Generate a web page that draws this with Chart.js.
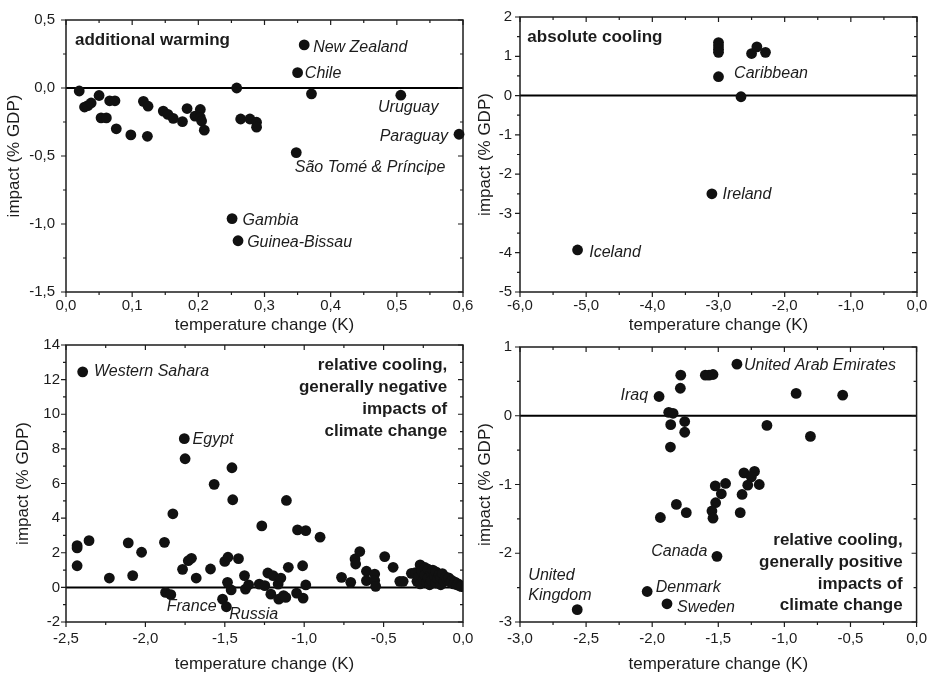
<!DOCTYPE html>
<html>
<head>
<meta charset="utf-8">
<script src="https://cdn.jsdelivr.net/npm/chart.js@4.4.1/dist/chart.umd.min.js"></script>
<style>
    html, body { margin: 0; padding: 0; background: #fff; overflow: hidden; }
    #wrap { position: relative; width: 935px; height: 676px; }
    canvas { position: absolute; }
</style>
</head>
<body>
<div id="wrap">
    <canvas id="warmChart" width="490" height="340" style="left:0;top:0"></canvas>
    <canvas id="coolChart" width="464" height="340" style="left:471px;top:0"></canvas>
    <canvas id="negChart" width="490" height="346" style="left:0;top:330px"></canvas>
    <canvas id="posChart" width="464" height="346" style="left:471px;top:330px"></canvas>
</div>
<script>

// [temperature change (K), impact (% GDP)]
var warmPoints = [
    [0.020, -0.022], [0.028, -0.14], [0.033, -0.13], [0.038, -0.11], [0.050, -0.055],
    [0.053, -0.22], [0.061, -0.22], [0.066, -0.094], [0.074, -0.094], [0.076, -0.30],
    [0.098, -0.345], [0.117, -0.098], [0.124, -0.134], [0.123, -0.355], [0.147, -0.17],
    [0.154, -0.194], [0.162, -0.223], [0.176, -0.247], [0.183, -0.151], [0.195, -0.207],
    [0.203, -0.158], [0.203, -0.216], [0.205, -0.243], [0.209, -0.31], [0.258, 0.0],
    [0.264, -0.228], [0.278, -0.228], [0.288, -0.252], [0.288, -0.288], [0.251, -0.96],
    [0.260, -1.123], [0.348, -0.475], [0.350, 0.113], [0.360, 0.317], [0.371, -0.043],
    [0.506, -0.053], [0.594, -0.34]
];

var coolPoints = [
    [-3.0, 1.35], [-3.0, 1.26], [-3.0, 1.18], [-3.0, 1.1], [-3.0, 0.48], [-2.66, -0.03],
    [-2.50, 1.07], [-2.42, 1.24], [-2.29, 1.10], [-3.10, -2.50], [-5.13, -3.93]
];

var negPoints = [
    [-2.395, 12.45], [-2.43, 2.41], [-2.43, 2.28], [-2.43, 1.25], [-2.355, 2.7], [-2.227, 0.54],
    [-2.108, 2.57], [-2.08, 0.68], [-2.024, 2.03], [-1.88, 2.6], [-1.873, -0.29], [-1.84, -0.42],
    [-1.827, 4.25], [-1.755, 8.59], [-1.75, 7.43], [-1.766, 1.04], [-1.73, 1.54], [-1.71, 1.68],
    [-1.68, 0.54], [-1.59, 1.06], [-1.567, 5.95], [-1.514, -0.68], [-1.49, -1.12], [-1.5, 1.5],
    [-1.48, 1.74], [-1.455, 6.91], [-1.45, 5.06], [-1.483, 0.29], [-1.46, -0.15], [-1.414, 1.66],
    [-1.376, 0.68], [-1.37, -0.1], [-1.35, 0.15], [-1.267, 3.55], [-1.283, 0.19], [-1.248, 0.1],
    [-1.229, 0.83], [-1.196, 0.68], [-1.21, -0.39], [-1.164, 0.19], [-1.147, 0.54], [-1.16, -0.68],
    [-1.13, -0.48], [-1.116, -0.58], [-1.112, 5.02], [-1.1, 1.16], [-1.042, 3.32], [-0.99, 3.28],
    [-1.048, -0.33], [-1.01, 1.25], [-1.007, -0.62], [-0.99, 0.14], [-0.9, 2.9], [-0.765, 0.58],
    [-0.707, 0.29], [-0.68, 1.64], [-0.676, 1.35], [-0.65, 2.07], [-0.608, 0.93], [-0.608, 0.39],
    [-0.556, 0.77], [-0.556, 0.39], [-0.55, 0.06], [-0.493, 1.78], [-0.44, 1.16], [-0.398, 0.35],
    [-0.377, 0.35], [-0.325, 0.81],
    [-0.30, 0.85], [-0.29, 0.35], [-0.28, 0.6], [-0.27, 1.3], [-0.27, 0.2], [-0.26, 0.95],
    [-0.25, 0.45], [-0.24, 1.15], [-0.24, 0.7], [-0.23, 0.3], [-0.22, 1.05], [-0.22, 0.55],
    [-0.21, 0.15], [-0.20, 0.85], [-0.20, 0.4], [-0.19, 1.0], [-0.18, 0.65], [-0.17, 0.25],
    [-0.17, 0.9], [-0.16, 0.5], [-0.15, 0.75], [-0.14, 0.15], [-0.14, 0.55], [-0.13, 0.8],
    [-0.12, 0.35], [-0.11, 0.6], [-0.10, 0.45], [-0.09, 0.55], [-0.08, 0.3], [-0.07, 0.4],
    [-0.06, 0.2], [-0.05, 0.3], [-0.04, 0.15], [-0.03, 0.2], [-0.02, 0.08], [-0.01, 0.05]
];

var posPoints = [
    [-1.359, 0.75], [-1.784, 0.59], [-1.787, 0.40], [-1.948, 0.28], [-1.598, 0.59], [-1.57, 0.59],
    [-1.54, 0.60], [-0.911, 0.325], [-0.559, 0.30], [-1.875, 0.05], [-1.842, 0.036], [-1.754, -0.084],
    [-1.86, -0.13], [-1.754, -0.24], [-1.132, -0.14], [-0.803, -0.30], [-1.862, -0.455], [-1.306, -0.83],
    [-1.226, -0.81], [-1.25, -0.89], [-1.277, -1.01], [-1.19, -1.0], [-1.32, -1.145], [-1.334, -1.41],
    [-1.523, -1.02], [-1.445, -0.985], [-1.477, -1.135], [-1.52, -1.265], [-1.548, -1.385], [-1.54, -1.49],
    [-1.817, -1.29], [-1.742, -1.41], [-1.938, -1.48], [-1.51, -2.045], [-2.038, -2.556], [-1.888, -2.735],
    [-2.567, -2.82]
];

// axis ranges [min, max, step]
var warmXRange = [0, 0.6, 0.1], warmYRange = [-1.5, 0.5, 0.5];
var coolXRange = [-6, 0, 1], coolYRange = [-5, 2, 1];
var negXRange = [-2.5, 0, 0.5], negYRange = [-2, 14, 2];
var posXRange = [-3, 0, 0.5], posYRange = [-3, 1, 1];

// country names: [text, x, y, align]
var warmNames = [
    ['New Zealand', 0.3735, 0.30, 'left'], ['Chile', 0.361, 0.103, 'left'],
    ['Uruguay', 0.4716, -0.144, 'left'], ['Paraguay', 0.474, -0.355, 'left'],
    ['São Tomé & Príncipe', 0.3458, -0.588, 'left'], ['Gambia', 0.2668, -0.977, 'left'],
    ['Guinea-Bissau', 0.2738, -1.14, 'left']
];
var coolNames = [
    ['Caribbean', -2.764, 0.566, 'left'], ['Ireland', -2.94, -2.512, 'left'], ['Iceland', -4.953, -3.988, 'left']
];
var negNames = [
    ['Western Sahara', -2.324, 12.45, 'left'], ['Egypt', -1.703, 8.53, 'left'],
    ['France', -1.552, -1.12, 'right'], ['Russia', -1.472, -1.58, 'left']
];
var posNames = [
    ['United Arab Emirates', -1.306, 0.735, 'left'], ['Iraq', -2.031, 0.292, 'right'],
    ['Canada', -1.583, -1.973, 'right'], ['United', -2.937, -2.325, 'left'], ['Kingdom', -2.937, -2.614, 'left'],
    ['Denmark', -1.973, -2.504, 'left'], ['Sweden', -1.812, -2.783, 'left']
];

// panel headings
var warmHead = [['additional warming', 0.0136, 0.348, 'left']];
var coolHead = [['absolute cooling', -5.889, 1.494, 'left']];
var negHead = [
    ['relative cooling,', -0.099, 12.84, 'right'], ['generally negative', -0.099, 11.54, 'right'],
    ['impacts of', -0.099, 10.27, 'right'], ['climate change', -0.099, 9.03, 'right']
];
var posHead = [
    ['relative cooling,', -0.105, -1.819, 'right'], ['generally positive', -0.105, -2.133, 'right'],
    ['impacts of', -0.105, -2.446, 'right'], ['climate change', -0.105, -2.759, 'right']
];

var FONT = '"Liberation Sans", Arial, Helvetica, sans-serif';
var INK = '#1c1c1c';

Chart.defaults.font.family = FONT;
Chart.defaults.color = INK;

function comma(v) {
    if (Math.abs(v) < 1e-9) v = 0;
    return v.toFixed(1).replace('.', ',');
}
function whole(v) {
    if (Math.abs(v) < 1e-9) v = 0;
    return String(Math.round(v));
}

// box, zero line, Origin-style ticks and the text notes
function framePlugin(names, heads) {
    return {
        id: 'frame',
        beforeDatasetsDraw: function (chart) {
            var ctx = chart.ctx, a = chart.chartArea;
            var xs = chart.scales.x, ys = chart.scales.y;
            var xMinor = xs.options.ticks.stepSize / 2, yMinor = ys.options.ticks.stepSize / 2;
            ctx.save();
            var y0 = ys.getPixelForValue(0);
            ctx.strokeStyle = '#000';
            ctx.lineWidth = 2;
            ctx.beginPath();
            ctx.moveTo(a.left, y0);
            ctx.lineTo(a.right, y0);
            ctx.stroke();

            ctx.strokeStyle = INK;
            ctx.lineWidth = 1.5;
            ctx.strokeRect(a.left, a.top, a.right - a.left, a.bottom - a.top);

            ctx.lineWidth = 1.2;
            ctx.beginPath();
            var n = Math.round((xs.max - xs.min) / xMinor);
            for (var i = 0; i <= n; i++) {
                var px = xs.getPixelForValue(xs.min + i * xMinor);
                var len = i % 2 === 0 ? 5 : 3;
                ctx.moveTo(px, a.bottom); ctx.lineTo(px, a.bottom + len);
                ctx.moveTo(px, a.top); ctx.lineTo(px, a.top + len);
            }
            var m = Math.round((ys.max - ys.min) / yMinor);
            for (var j = 0; j <= m; j++) {
                var py = ys.getPixelForValue(ys.min + j * yMinor);
                var l2 = j % 2 === 0 ? 5 : 3;
                ctx.moveTo(a.left, py); ctx.lineTo(a.left - l2, py);
                ctx.moveTo(a.right, py); ctx.lineTo(a.right - l2, py);
            }
            ctx.stroke();
            ctx.restore();
        },
        afterDatasetsDraw: function (chart) {
            var ctx = chart.ctx, xs = chart.scales.x, ys = chart.scales.y;
            ctx.save();
            ctx.fillStyle = INK;
            ctx.textBaseline = 'middle';
            ctx.font = 'italic 16px ' + FONT;
            names.forEach(function (t) {
                ctx.textAlign = t[3];
                ctx.fillText(t[0], xs.getPixelForValue(t[1]), ys.getPixelForValue(t[2]));
            });
            ctx.font = 'bold 17px ' + FONT;
            heads.forEach(function (t) {
                ctx.textAlign = t[3];
                ctx.fillText(t[0], xs.getPixelForValue(t[1]), ys.getPixelForValue(t[2]));
            });
            ctx.restore();
        }
    };
}

function makePanel(id, points, xr, yr, xFmt, yFmt, names, heads, lay) {
    var chartArea = document.getElementById(id).getContext('2d');
    return new Chart(chartArea, {
        type: 'scatter',
        data: {
            datasets: [{
                data: points.map(function (p) { return { x: p[0], y: p[1] }; }),
                backgroundColor: '#111',
                borderWidth: 0,
                pointRadius: 5.4,
                pointHoverRadius: 5.4,
                clip: lay.clip
            }]
        },
        options: {
            responsive: false,
            animation: false,
            events: [],
            layout: { padding: { top: 15, right: lay.right, left: 0, bottom: 0 } },
            plugins: { legend: { display: false }, tooltip: { enabled: false } },
            scales: {
                x: {
                    type: 'linear',
                    min: xr[0], max: xr[1],
                    grid: { display: false, drawTicks: false },
                    border: { display: false },
                    ticks: {
                        stepSize: xr[2], autoSkip: false, maxRotation: 0,
                        padding: lay.xPad, font: { size: 15 }, callback: xFmt
                    },
                    title: {
                        display: true, text: 'temperature change (K)',
                        font: { size: 17 }, padding: { top: 0, bottom: lay.xTitle }
                    },
                    afterFit: function (s) { s.height = lay.xH; }
                },
                y: {
                    type: 'linear',
                    min: yr[0], max: yr[1],
                    grid: { display: false, drawTicks: false },
                    border: { display: false },
                    ticks: {
                        stepSize: yr[2], autoSkip: false,
                        padding: lay.yPad, font: { size: 15 }, callback: yFmt
                    },
                    title: {
                        display: true, text: 'impact (% GDP)',
                        font: { size: 17 }, padding: { top: lay.yTitle, bottom: 0 }
                    },
                    afterFit: function (s) { s.width = lay.yW; }
                }
            }
        },
        plugins: [framePlugin(names, heads)]
    });
}

makePanel('warmChart', warmPoints, warmXRange, warmYRange, comma, comma, warmNames, warmHead,
    { right: 27, yW: 66, xH: 48, xPad: 5, yPad: 11, xTitle: 4, yTitle: 4, clip: 8 });
makePanel('coolChart', coolPoints, coolXRange, coolYRange, comma, whole, coolNames, coolHead,
    { right: 18, yW: 49, xH: 48, xPad: 5, yPad: 8, xTitle: 4, yTitle: 4, clip: 8 });
makePanel('negChart', negPoints, negXRange, negYRange, comma, whole, negNames, negHead,
    { right: 27, yW: 66, xH: 54, xPad: 8, yPad: 6, xTitle: 1, yTitle: 13, clip: 0 });
makePanel('posChart', posPoints, posXRange, posYRange, comma, whole, posNames, posHead,
    { right: 18, yW: 49, xH: 54, xPad: 8, yPad: 8, xTitle: 1, yTitle: 4, clip: 8 });

</script>
</body>
</html>
